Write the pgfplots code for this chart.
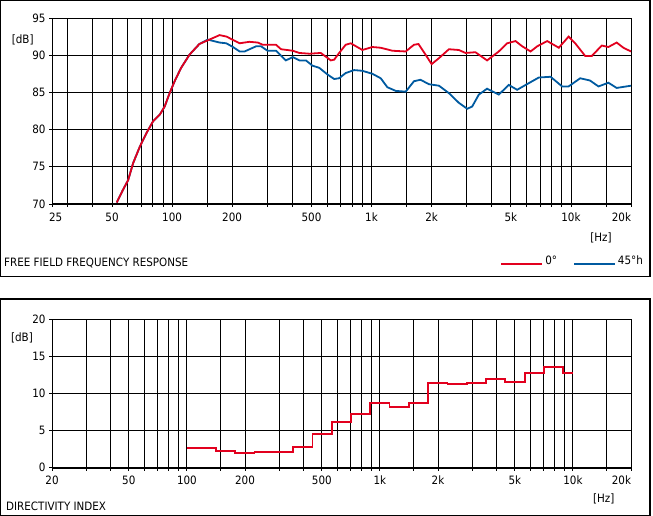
\documentclass[border=0pt]{standalone}
\usepackage{fontspec}
\setmainfont{DejaVu Sans}[FakeStretch=0.9]
\usepackage{pgfplots}
\pgfplotsset{compat=1.18}
\definecolor{zerodeg}{RGB}{226,0,30}
\definecolor{fortyfive}{RGB}{0,90,160}
\newcommand\chartfont{\fontsize{11.5bp}{13bp}\selectfont}

\begin{document}
\begin{tikzpicture}[font=\chartfont]
\useasboundingbox (0bp,0bp) rectangle (653bp,516bp);
% panel frames
\draw[line width=1.3bp] (0.65bp,239.5bp) rectangle (650bp,515.35bp);
\draw[line width=1.3bp] (0.65bp,0.65bp) rectangle (650bp,217bp);

% free field frequency response
\begin{axis}[name=ff, at={(52bp,312bp)}, anchor=south west,
  scale only axis, width=579bp, height=186bp,
  xmode=log, xmin=25, xmax=20000, ymin=70, ymax=95,
  grid=both,
  major grid style={black, line width=0.9bp},
  minor grid style={black, line width=0.9bp},
  axis line style={black, line width=0.9bp},
  tick align=outside, xtick pos=bottom, ytick pos=left,
  major tick length=3bp, minor tick length=3bp,
  tick style={black, line width=0.9bp},
  tick label style={font=\chartfont},
  xticklabel style={yshift=-2bp},
  xtick={25,50,100,200,500,1000,2000,5000,10000,20000},
  xticklabels={\makebox[0pt][l]{\hspace{-3bp}25},50,100,200,500,1k,2k,5k,10k,\makebox[0pt][r]{20k}},
  minor xtick={30,40,60,70,80,90,150,300,400,600,700,800,900,1500,3000,4000,6000,7000,8000,9000,15000},
  ytick={70,75,80,85,90,95}, yticklabels={70,75,80,85,90,95},
  legend style={at={(1.0242,-0.306)}, anchor=east, draw=none, fill=none,
    inner sep=0pt, font=\chartfont,
    /tikz/every even column/.append style={column sep=14bp}},
  legend columns=2,
  legend image code/.code={\draw[#1] (0bp,-3bp) -- (41bp,-3bp);},
]
\addplot[fortyfive, line width=1.8bp, forget plot] coordinates {
(52.8,70.2)(56.7,71.9)(60.2,73.2)(63.8,75.5)(68.9,77.7)(74.3,79.5)(80.2,81.1)
(86.7,82.0)(91.8,83.1)(97.2,84.9)(103,86.5)(111,88.3)(122.5,90.1)(137,91.5)
(151,92.1)(173,91.7)(187,91.6)(202,91.1)(218,90.5)(231,90.5)(264,91.2)(279,91.2)
(301,90.6)(332,90.6)(372,89.3)(403,89.75)(435,89.3)(469,89.3)(505,88.6)(547,88.3)
(602,87.4)(650,86.8)(688,86.9)(742,87.6)(818,88.0)(900,87.9)(1010,87.5)(1112,86.9)
(1200,85.7)(1322,85.2)(1484,85.1)(1632,86.5)(1760,86.7)(1940,86.1)(2178,85.9)
(2443,84.9)(2740,83.6)(3018,82.8)(3197,83.1)(3451,84.7)(3797,85.5)(4345,84.7)
(4876,86.0)(5370,85.35)(6153,86.25)(6900,87.0)(7900,87.1)(9030,85.8)(9730,85.8)
(11120,86.9)(12450,86.6)(13740,85.8)(15400,86.3)(16950,85.6)(20000,85.9)
};
\addplot[zerodeg, line width=1.8bp, forget plot] coordinates {
(52.8,70.2)(56.7,71.9)(60.2,73.2)(63.8,75.5)(68.9,77.7)(74.3,79.5)(80.2,81.1)
(86.7,82.0)(91.8,83.1)(97.2,84.9)(103,86.5)(111,88.3)(122.5,90.1)(137,91.5)
(151,92.0)(173,92.7)(187.5,92.5)(218,91.6)(244,91.8)(269,91.7)(285,91.4)(332,91.4)
(352,90.8)(403,90.6)(435,90.3)(488,90.2)(557,90.3)(590,89.8)(625,89.3)(650,89.4)
(688,90.3)(742,91.4)(787,91.6)(900,90.7)(1010,91.1)(1112,91.0)(1272,90.6)(1484,90.5)
(1632,91.4)(1720,91.5)(1832,90.4)(2002,88.8)(2178,89.6)(2443,90.8)(2740,90.7)
(2960,90.3)(3318,90.4)(3797,89.3)(4345,90.5)(4786,91.6)(5272,91.9)(5692,91.2)
(6275,90.5)(6776,91.2)(7600,91.9)(8690,91.0)(9730,92.5)(10500,91.6)(11780,89.9)
(12720,89.9)(14270,91.3)(15400,91.1)(16950,91.7)(18320,91.0)(20000,90.5)
};
\addlegendimage{zerodeg, line width=1.8bp}
\addlegendentry{0°}
\addlegendimage{fortyfive, line width=1.8bp}
\addlegendentry{45°h}
\end{axis}
\draw[line width=2.2bp] (ff.south west) -- (ff.south east);

% directivity index
\begin{axis}[name=di, at={(52bp,48.3bp)}, anchor=south west,
  scale only axis, width=579bp, height=148.4bp,
  xmode=log, xmin=20, xmax=20000, ymin=0, ymax=20,
  grid=both,
  major grid style={black, line width=0.9bp},
  minor grid style={black, line width=0.9bp},
  axis line style={black, line width=0.9bp},
  tick align=outside, xtick pos=bottom, ytick pos=left,
  major tick length=3bp, minor tick length=3bp,
  tick style={black, line width=0.9bp},
  tick label style={font=\chartfont},
  xticklabel style={yshift=-2bp},
  xtick={20,50,100,200,500,1000,2000,5000,10000,20000},
  xticklabels={20,50,100,200,500,1k,2k,5k,10k,\makebox[0pt][r]{20k}},
  minor xtick={30,40,60,70,80,90,150,300,400,600,700,800,900,1500,3000,4000,6000,7000,8000,9000,15000},
  ytick={0,5,10,15,20}, yticklabels={0,5,10,15,20},
]
\addplot[zerodeg, line width=1.8bp, const plot] coordinates {
(100,2.7)(141,2.25)(178,1.98)(224,2.1)(282,2.1)(355,2.83)(447,4.58)(562,6.2)
(708,7.28)(891,8.76)(1122,8.22)(1413,8.76)(1778,11.46)(2239,11.28)(2818,11.46)
(3548,11.95)(4467,11.6)(5623,12.8)(7079,13.6)(8913,12.8)(10000,12.8)
};
\end{axis}
\draw[line width=2.2bp] (di.south west) -- (di.south east);

% labels
\node[inner sep=0pt] at (22.7bp,476.5bp) {[dB]};
\node[inner sep=0pt] at (22bp,178bp) {[dB]};
\node[inner sep=0pt] at (601bp,278bp) {[Hz]};
\node[inner sep=0pt] at (603.7bp,17bp) {[Hz]};
\node[inner sep=0pt, anchor=base west] at (4bp,249bp) {FREE FIELD FREQUENCY RESPONSE};
\node[inner sep=0pt, anchor=base west] at (6bp,6bp) {DIRECTIVITY INDEX};
\end{tikzpicture}
\end{document}
